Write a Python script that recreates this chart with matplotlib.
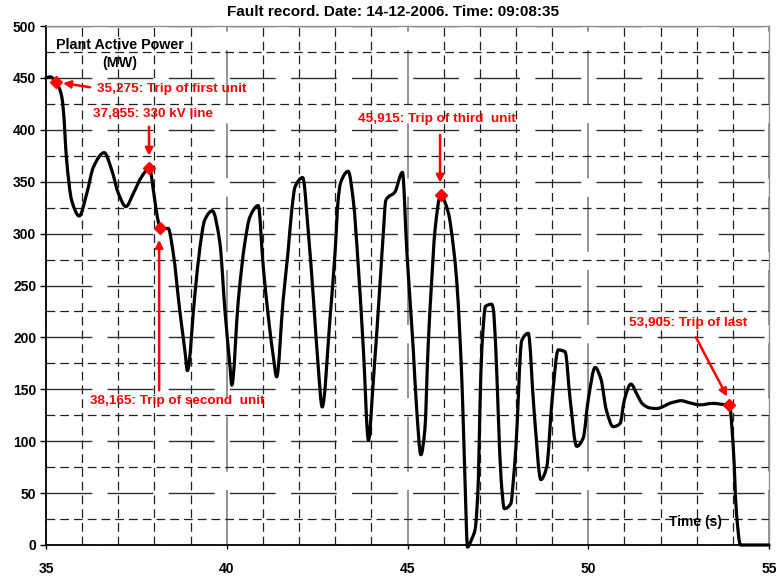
import matplotlib
matplotlib.use('Agg')
import matplotlib.pyplot as plt
from matplotlib.path import Path
from matplotlib.patches import PathPatch

plt.rcParams['font.family'] = ['Liberation Sans', 'DejaVu Sans']
plt.rcParams['font.weight'] = 'bold'

# odcitane tocke krivulje (cas [s], moc [MW])
cas = [35.00, 35.12, 35.275, 35.43, 35.48, 35.57, 35.71, 35.92, 36.13, 36.31, 36.61,
       36.82, 37.00, 37.21, 37.42, 37.65, 37.855, 38.01, 38.08, 38.165, 38.38, 38.52,
       38.70, 38.85, 38.91, 39.12, 39.26, 39.39, 39.60, 39.81, 39.95, 40.09, 40.14,
       40.32, 40.50, 40.64, 40.87, 41.01, 41.15, 41.29, 41.38, 41.56, 41.70, 41.80,
       41.89, 42.10, 42.26, 42.40, 42.53, 42.64, 42.86, 43.00, 43.08, 43.15, 43.36,
       43.50, 43.64, 43.78, 43.92, 44.05, 44.24, 44.33, 44.40, 44.65, 44.86, 44.98,
       45.07, 45.16, 45.25, 45.37, 45.48, 45.57, 45.67, 45.76, 45.915, 46.13, 46.27,
       46.36, 46.45, 46.52, 46.59, 46.66, 46.78, 46.87, 46.96, 47.00, 47.06, 47.16,
       47.33, 47.37, 47.44, 47.51, 47.59, 47.68, 47.86, 47.93, 48.00, 48.16, 48.34,
       48.50, 48.69, 48.85, 49.00, 49.17, 49.36, 49.50, 49.68, 49.86, 50.00, 50.19,
       50.35, 50.50, 50.69, 50.88, 51.00, 51.18, 51.35, 51.50, 51.71, 51.89, 52.30,
       52.58, 52.80, 53.09, 53.46, 53.70, 53.905, 54.01, 54.10, 54.21, 54.50, 55.00]
moc = [450, 451, 446, 433, 419, 371, 332, 317, 339, 364, 378,
       361, 339, 326, 339, 355, 363, 332, 316, 305, 305, 281,
       226, 185, 168, 242, 287, 313, 322, 291, 226, 172, 154,
       236, 291, 316, 327, 268, 220, 181, 162, 236, 284, 323,
       345, 354, 300, 236, 172, 133, 220, 284, 332, 349, 360,
       332, 268, 188, 101, 156, 252, 300, 332, 340, 359, 284,
       236, 188, 133, 87, 111, 191, 255, 303, 337, 320, 287,
       255, 201, 143, 63, -2, 6, 15, 63, 127, 191, 230,
       232, 228, 191, 127, 63, 35, 40, 63, 95, 197, 204,
       130, 63, 75, 140, 188, 186, 140, 95, 103, 140, 171,
       160, 130, 114, 117, 140, 155, 145, 136, 132, 131.5, 137,
       139, 137, 135, 136.5, 135.5, 135, 95, 31, 0, 0, 0]

# dogodki (izklopi)
dog_t = [35.275, 37.855, 38.165, 45.915, 53.905]
dog_p = [446, 363, 305, 337, 135]
dog_txt = ['35,275: Trip of first unit', '37,855: 330 kV line',
           '38,165: Trip of second  unit', '45,915: Trip of third  unit',
           '53,905: Trip of last']


def gladka_pot(x, y):
    # zglajena crta skozi odcitane tocke (hermite -> bezier, brez prenihajev)
    n = len(x)
    h = [x[i+1] - x[i] for i in range(n - 1)]
    d = [(y[i+1] - y[i]) / h[i] for i in range(n - 1)]
    m = [d[0]] + [0.0] * (n - 2) + [d[-1]]
    for k in range(1, n - 1):
        if d[k-1] * d[k] > 0:
            w1 = 2 * h[k] + h[k-1]
            w2 = h[k] + 2 * h[k-1]
            m[k] = (w1 + w2) / (w1 / d[k-1] + w2 / d[k])
    verts = [(x[0], y[0])]
    codes = [Path.MOVETO]
    for i in range(n - 1):
        c1 = (x[i] + h[i] / 3, y[i] + m[i] * h[i] / 3)
        c2 = (x[i+1] - h[i] / 3, y[i+1] - m[i+1] * h[i] / 3)
        verts += [c1, c2, (x[i+1], y[i+1])]
        codes += [Path.CURVE4] * 3
    return Path(verts, codes)


fig = plt.figure(figsize=(7.79, 5.79), dpi=100)
ax = fig.add_axes([46/779, 34/579, 723/779, 519/579])

ax.set_xlim(35, 55)
ax.set_ylim(0, 500)
ax.set_xticks(range(35, 56, 5))
ax.set_xticks(range(35, 56, 1), minor=True)
ax.set_yticks(range(0, 501, 50))
ax.set_yticks(range(0, 501, 25), minor=True)

# mreza
ax.grid(True, which='major', axis='y', color='#303030', lw=1.0, ls=(0, (33, 11)))
ax.grid(True, which='major', axis='x', color='#808080', lw=1.2, ls=(0, (33, 11)))
ax.grid(True, which='minor', axis='both', color='#202020', lw=0.9, ls=(0, (7, 4)))
ax.set_axisbelow(True)

ax.tick_params(axis='both', which='minor', length=0)
ax.tick_params(axis='y', which='major', length=4, width=1, pad=3, labelsize=10)
ax.tick_params(axis='x', which='major', length=3, width=1, pad=9, labelsize=10)
for lab in ax.get_xticklabels() + ax.get_yticklabels():
    lab.set_fontweight('bold')

for s in ['left', 'bottom']:
    ax.spines[s].set_linewidth(1.3)
    ax.spines[s].set_color('black')
for s in ['top', 'right']:
    ax.spines[s].set_linewidth(1.0)
    ax.spines[s].set_color('#909090')

krivulja = PathPatch(gladka_pot(cas, moc), facecolor='none', edgecolor='black',
                     lw=2.3, clip_on=False, zorder=3, capstyle='round', joinstyle='round')
ax.add_patch(krivulja)

ax.plot(dog_t, dog_p, 'D', color='red', markersize=6.5, zorder=4, clip_on=False)

rdeca = 'red'
puscica = dict(arrowstyle='-|>', color=rdeca, lw=1.8, shrinkA=0, shrinkB=0,
               mutation_scale=11)
# 1. enota
ax.annotate('', xy=(35.47, 445), xytext=(36.22, 441), arrowprops=puscica)
ax.text(36.41, 439, dog_txt[0], color=rdeca, fontsize=9.7, fontweight='bold',
        ha='left', va='center')
# 330 kV
ax.annotate('', xy=(37.85, 375), xytext=(37.85, 403), arrowprops=puscica)
ax.text(36.3, 415, dog_txt[1], color=rdeca, fontsize=9.7, fontweight='bold',
        ha='left', va='center')
# 2. enota
ax.annotate('', xy=(38.13, 294), xytext=(38.13, 149), arrowprops=puscica)
ax.text(36.22, 139, dog_txt[2], color=rdeca, fontsize=9.7, fontweight='bold',
        ha='left', va='center')
# 3. enota
ax.annotate('', xy=(45.9, 349), xytext=(45.9, 395), arrowprops=puscica)
ax.text(43.63, 410, dog_txt[3], color=rdeca, fontsize=9.7, fontweight='bold',
        ha='left', va='center')
# zadnja enota
ax.annotate('', xy=(53.84, 143), xytext=(52.98, 200), arrowprops=puscica)
ax.text(51.13, 214, dog_txt[4], color=rdeca, fontsize=9.7, fontweight='bold',
        ha='left', va='center')

ax.text(37.04, 473, 'Plant Active Power\n(MW)', fontsize=10.3, fontweight='bold',
        ha='center', va='center', multialignment='center', linespacing=1.3)
ax.text(52.98, 22, 'Time (s)', fontsize=10, fontweight='bold', ha='center', va='center')

fig.text(0.505, 0.979, 'Fault record. Date: 14-12-2006. Time: 09:08:35',
         fontsize=11, fontweight='bold', ha='center', va='center')

plt.savefig('out.png', dpi=100)
